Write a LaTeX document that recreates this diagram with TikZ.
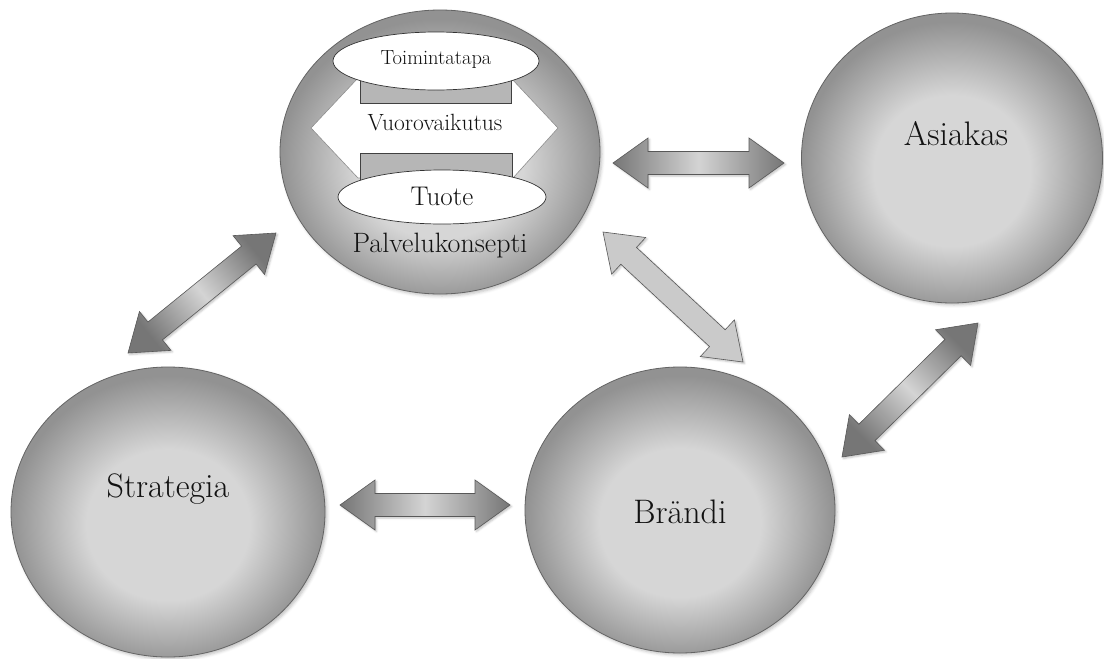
\documentclass[tikz,border=0pt]{standalone}
\usepackage{fontspec}
\usetikzlibrary{calc,shapes.geometric,shadows.blur}

\definecolor{circdark}{RGB}{146,146,146}
\definecolor{circlight}{RGB}{214,214,214}
\definecolor{circline}{RGB}{100,100,100}
\definecolor{arrdark}{RGB}{118,118,118}
\definecolor{arrlight}{RGB}{212,212,212}
\definecolor{arrflat}{RGB}{202,202,202}
\definecolor{arrline}{RGB}{88,88,88}
\definecolor{barfill}{RGB}{182,182,182}
\definecolor{txt}{RGB}{18,18,18}

\pgfdeclareradialshading{ballshade}{\pgfpoint{0bp}{-3bp}}{%
  color(0bp)=(circlight); color(13bp)=(circlight);
  color(25bp)=(circdark); color(50bp)=(circdark)}

% double-headed block arrow between two tip coordinates
\newcommand\dblblock[3]{%
  \path[#1] (#2)
    -- ($(#2)!35pt!(#3)!25pt!90:(#3)$)
    -- ($(#2)!35pt!(#3)!11.5pt!90:(#3)$)
    -- ($(#3)!35pt!(#2)!11.5pt!-90:(#2)$)
    -- ($(#3)!35pt!(#2)!25pt!-90:(#2)$)
    -- (#3)
    -- ($(#3)!35pt!(#2)!25pt!90:(#2)$)
    -- ($(#3)!35pt!(#2)!11.5pt!90:(#2)$)
    -- ($(#2)!35pt!(#3)!11.5pt!-90:(#3)$)
    -- ($(#2)!35pt!(#3)!25pt!-90:(#3)$)
    -- cycle;}

\begin{document}
\begin{tikzpicture}[x=1pt,y=-1pt,
  ball/.style={ellipse, inner sep=0pt, draw=circline, line width=0.8pt,
    shading=ballshade,
    blur shadow={shadow xshift=2pt, shadow yshift=-2pt,
      shadow blur radius=3pt, shadow opacity=25}},
  pill/.style={ellipse, inner sep=0pt, draw=black!80, line width=0.7pt, fill=white},
  hexa/.style={draw=black!45, line width=0.6pt, fill=white},
  bar/.style={draw=black!75, line width=0.7pt, fill=barfill},
  lbl/.style={inner sep=0pt, anchor=base, text=txt},
  shadearrow/.style={draw=arrline, line width=0.6pt,
    top color=arrdark, bottom color=arrdark, middle color=arrlight,
    blur shadow={shadow xshift=1.5pt, shadow yshift=-1.5pt,
      shadow blur radius=2pt, shadow opacity=25}},
  flatarrow/.style={draw=arrline, line width=0.6pt, fill=arrflat,
    blur shadow={shadow xshift=1.5pt, shadow yshift=-1.5pt,
      shadow blur radius=2pt, shadow opacity=25}}]

\useasboundingbox (0,0) rectangle (1104,659);

% main circles
\node[ball, minimum width=320pt, minimum height=284pt] (pal) at (440,152) {};
\node[ball, minimum width=301pt, minimum height=290pt] (asi) at (952,158) {};
\node[ball, minimum width=314pt, minimum height=290pt] (str) at (168,512) {};
\node[ball, minimum width=310pt, minimum height=286pt] (bra) at (680,510) {};

% inner structure of the service concept
\draw[hexa] (311,128) -- (358,78) -- (511,78) -- (558,128) -- (513,178) -- (358,178) -- cycle;
\draw[bar] (360,76) rectangle (511,103);
\draw[bar] (360,153) rectangle (512,190);
\node[pill, minimum width=206pt, minimum height=58pt] (toim) at (436,61) {};
\node[pill, minimum width=208pt, minimum height=54pt] (tuo) at (442,197) {};

% labels
\node[lbl, font=\fontsize{20.5}{24}\selectfont\addfontfeature{FakeBold=1}] (ltoim) at (436,64) {Toimintatapa};
\node[lbl, font=\fontsize{23.5}{28}\selectfont\addfontfeature{FakeBold=1}] (lvuo) at (435,130) {Vuorovaikutus};
\node[lbl, font=\fontsize{27}{32}\selectfont\addfontfeature{FakeBold=1}] (ltuo) at (442,205) {Tuote};
\node[lbl, font=\fontsize{28}{34}\selectfont\addfontfeature{FakeBold=1}] (lpal) at (440,252) {Palvelukonsepti};
\node[lbl, font=\fontsize{34}{41}\selectfont\addfontfeature{FakeBold=1}] (lasi) at (956,145) {Asiakas};
\node[lbl, font=\fontsize{34}{41}\selectfont\addfontfeature{FakeBold=1}] (lstr) at (168,497) {Strategia};
\node[lbl, font=\fontsize{34}{41}\selectfont\addfontfeature{FakeBold=1}] (lbra) at (680,523) {Brändi};

% arrow tips
\coordinate (pa1) at (613,163);  \coordinate (pa2) at (784,163);
\coordinate (sb1) at (340,505);  \coordinate (sb2) at (510,505);
\coordinate (sp1) at (128,353);  \coordinate (sp2) at (276,233);
\coordinate (pb1) at (603,232);  \coordinate (pb2) at (743,362);
\coordinate (ba1) at (842,457);  \coordinate (ba2) at (978,323);

% connecting block arrows
\dblblock{shadearrow, shading angle=90}{pa1}{pa2}
\dblblock{shadearrow, shading angle=90}{sb1}{sb2}
\dblblock{shadearrow, shading angle=129}{sp1}{sp2}
\dblblock{flatarrow}{pb1}{pb2}
\dblblock{shadearrow, shading angle=135}{ba1}{ba2}

\end{tikzpicture}
\end{document}
